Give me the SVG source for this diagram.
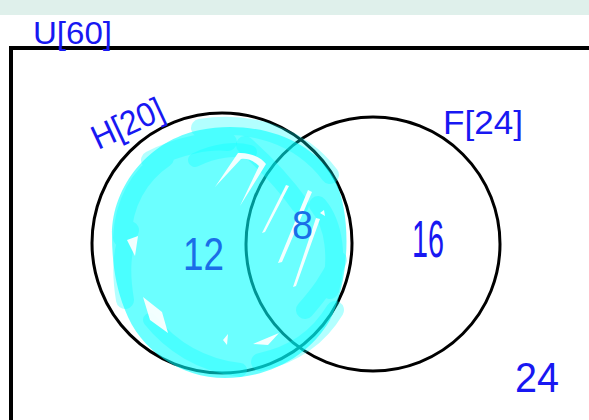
<svg xmlns="http://www.w3.org/2000/svg" width="589" height="420" viewBox="0 0 589 420">
<style>
.lbl{font-family:"Liberation Sans","DejaVu Sans",sans-serif;fill:#1818f2;}
.ring{fill:none;stroke:#000;stroke-width:3;}
.scr{fill:none;stroke:#00ffff;stroke-linecap:round;stroke-linejoin:round;opacity:0.3;}
</style>
<rect x="0" y="0" width="589" height="420" fill="#ffffff"/>
<rect x="0" y="0" width="589" height="15" fill="#dff0eb"/>
<g id="universe">
<path d="M11 420 V48 H589" fill="none" stroke="#000" stroke-width="4"/>
<text class="lbl" x="33" y="44" font-size="32" textLength="79" lengthAdjust="spacingAndGlyphs">U[60]</text>
</g>
<g id="node-H">
<circle class="ring" cx="222" cy="243" r="130"/>
<text class="lbl" x="98" y="150" font-size="34" textLength="76" lengthAdjust="spacingAndGlyphs" transform="rotate(-25 98 150)">H[20]</text>
</g>
<g id="node-F">
<circle class="ring" cx="373" cy="244" r="127"/>
<text class="lbl" x="443" y="134" font-size="34" textLength="80" lengthAdjust="spacingAndGlyphs">F[24]</text>
</g>
<g id="fill-H">
<path d="M112 235 C112 185 150 140 200 130 C250 120 310 135 335 180 C352 215 350 280 330 320 C310 355 270 378 225 378 C180 378 140 350 125 310 C115 285 112 260 112 235 Z" fill="#00ffff" fill-opacity="0.58"/>
<path class="scr" stroke-width="18" d="M122 238 C124 200 140 175 165 158 M150 160 C180 145 210 140 228 142 M200 128 C250 120 300 135 330 175 M125 300 C120 270 122 250 130 230"/>
<path class="scr" stroke-width="18" d="M318 205 C335 225 338 260 330 290 M305 310 C318 295 330 280 338 260 M245 145 C262 160 282 180 300 205 M260 362 C295 355 320 335 335 310"/>
<path class="scr" stroke-width="14" d="M150 320 C170 345 200 365 240 370 M195 160 C215 150 235 148 250 152"/>
<path d="M215 187 L238 153 C250 152 262 158 266 164 L240 206 L259 166 C253 160 246 158 241 159 Z M262 233 L286 185 L289 186 L265 232 Z M278 263 L308 190 L312 192 L282 262 Z M293 287 L316 218 L320 219 L296 286 Z M320 213 L324 210 L325 216 Z M127 240 L138 236 L135 256 Z M143 297 L162 312 L168 333 L150 320 Z M253 344 L279 333 L268 345 Z M223 340 L228 334 L227 345 Z" fill="#ffffff" fill-opacity="0.92"/>
</g>
<g id="regions">
<text class="lbl" x="183" y="270" font-size="46" textLength="41" lengthAdjust="spacingAndGlyphs" style="fill:#1a6ee8">12</text>
<text class="lbl" x="292" y="239" font-size="40" textLength="21" lengthAdjust="spacingAndGlyphs" style="fill:#1a6ee8">8</text>
<text class="lbl" x="412" y="257" font-size="52" textLength="32" lengthAdjust="spacingAndGlyphs">16</text>
<text class="lbl" x="515" y="392" font-size="42" textLength="44" lengthAdjust="spacingAndGlyphs">24</text>
</g>
<g id="connectors"></g>
</svg>
